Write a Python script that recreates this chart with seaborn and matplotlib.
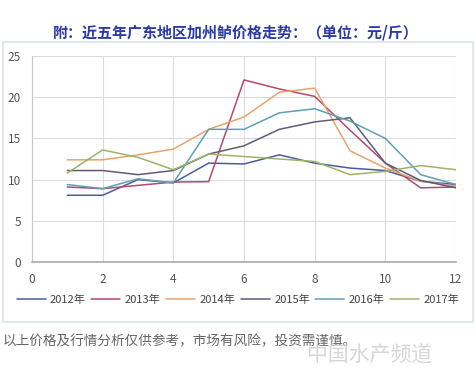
import matplotlib
matplotlib.use("Agg")
import matplotlib.pyplot as plt
import pandas as pd
import seaborn as sns
from matplotlib.patches import Rectangle

# Data (price, yuan/jin)
months = [1, 2, 3, 4, 5, 6, 7, 8, 9, 10, 11, 12]
years = ["2012年", "2013年", "2014年", "2015年", "2016年", "2017年"]
p2012 = [8.1, 8.1, 10.0, 9.6, 12.0, 11.9, 13.0, 12.0, 11.4, 11.1, 9.8, 9.4]
p2013 = [9.1, 8.9, 9.3, 9.7, 9.75, 22.1, 21.0, 20.1, 16.0, 12.0, 9.0, 9.1]
p2014 = [12.4, 12.4, 13.0, 13.7, 16.1, 17.6, 20.6, 21.1, 13.5, 11.4, 9.8, 9.2]
p2015 = [11.1, 11.1, 10.6, 11.1, 13.1, 14.1, 16.1, 17.0, 17.5, 12.0, 9.9, 9.0]
p2016 = [9.4, 8.9, 10.1, 9.6, 16.1, 16.1, 18.1, 18.6, 17.1, 15.0, 10.6, 9.4]
p2017 = [10.8, 13.6, 12.7, 11.2, 13.1, 12.8, 12.5, 12.2, 10.6, 11.0, 11.7, 11.2]
colors = ["#4b5b9c", "#b8486e", "#eaa36a", "#5d5d78", "#5f9fb6", "#9cb468"]

series = [p2012, p2013, p2014, p2015, p2016, p2017]
df = pd.DataFrame({
    "month": months * len(years),
    "price": [v for s in series for v in s],
    "year": [y for y in years for _ in months],
})

sns.set_style("white")
plt.rcParams['font.family'] = ['Noto Sans CJK SC', 'DejaVu Sans']

fig = plt.figure(figsize=(4.76, 3.82), dpi=100)
fig.patches.append(Rectangle((3 / 476, 1 - 322 / 382), 470 / 476, 280 / 382,
                             transform=fig.transFigure, facecolor="white",
                             edgecolor="#dde3e8", linewidth=1.2, zorder=-5))

ax = fig.add_axes([32 / 476, 1 - 262 / 382, 424 / 476, 206 / 382])
ax.set_zorder(2)
ax.patch.set_alpha(0)
sns.lineplot(data=df, x="month", y="price", hue="year", palette=colors,
             linewidth=1.1, ax=ax, legend=False)

ax.set_xlim(0, 12)
ax.set_ylim(0, 25)
ax.set_xticks(range(0, 13, 2))
ax.set_yticks(range(0, 26, 5))
ax.grid(True, color="#dcdcdc", linewidth=0.8)
ax.set_axisbelow(True)
for s in ["top", "right"]:
    ax.spines[s].set_visible(False)
ax.spines["left"].set_color("#c8c8c8")
ax.spines["bottom"].set_color("#b0b0b0")
ax.spines["bottom"].set_linewidth(1.3)
ax.tick_params(colors="#555555", labelsize=8.5, length=0, pad=8)
ax.set_xlabel("")
ax.set_ylabel("")

handles = [plt.Line2D([], [], color=c, linewidth=1.1) for c in colors]
fig.legend(handles, years, loc="center", bbox_to_anchor=(0.5, 1 - 300 / 382),
           ncol=6, frameon=False, fontsize=8, handlelength=2.6,
           handletextpad=0.4, columnspacing=0.5, labelcolor="#444444")

fig.text(236 / 476, 1 - 33 / 382, "附：近五年广东地区加州鲈价格走势：（单位：元/斤）",
         ha="center", va="center", fontsize=10.8, fontweight="bold", color="#2a3aa6")
fig.text(3 / 476, 1 - 341 / 382, "以上价格及行情分析仅供参考，市场有风险，投资需谨慎。",
         ha="left", va="center", fontsize=9.8, color="#666666")
fig.text(370 / 476, 1 - 356 / 382, "中国水产频道", ha="center", va="center",
         fontsize=15, color="#cccccc", style="italic", alpha=0.8)

fig.savefig("out.png", dpi=100)
